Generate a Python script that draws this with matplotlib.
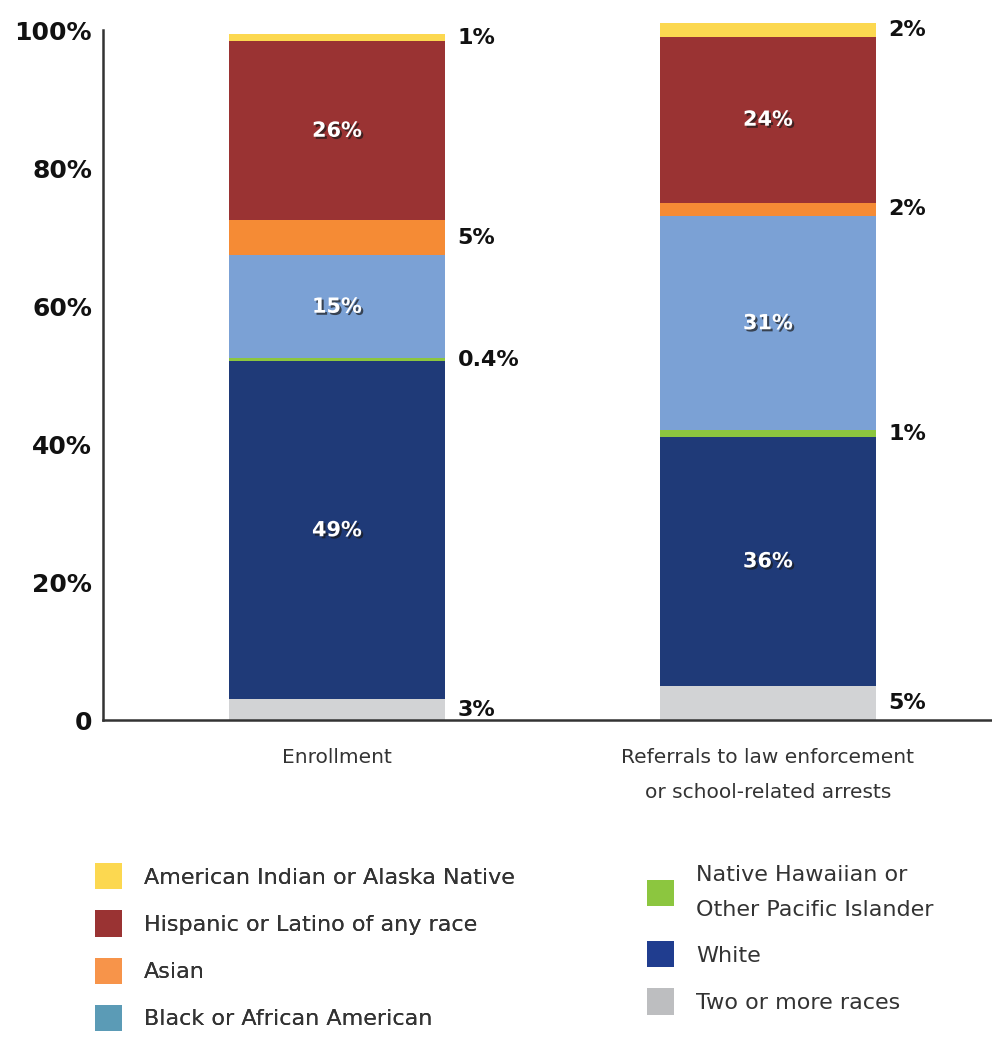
import numpy as np
import matplotlib
matplotlib.use("Agg")
import matplotlib.pyplot as plt
import matplotlib.patheffects as pe
from matplotlib.patches import Patch

# -------- data --------
groups = ["Enrollment", "Referrals to law enforcement\nor school-related arrests"]
races = ["Two or more races", "White", "Native Hawaiian or\nOther Pacific Islander",
         "Black or African American", "Asian", "Hispanic or Latino of any race",
         "American Indian or Alaska Native"]
two_more = [3, 5]
white = [49, 36]
nhpi = [0.4, 1]
black = [15, 31]
asian = [5, 2]
hispanic = [26, 24]
aian = [1, 2]
values = [two_more, white, nhpi, black, asian, hispanic, aian]
inside = [False, True, False, True, False, True, False]

bar_colors = ["#d2d3d5", "#1f3a78", "#8cc63f", "#7ba1d5", "#f58b35", "#9a3333", "#fcd850"]
legend_colors = ["#bdbec0", "#203d8f", "#8cc63f", "#5b9bb6", "#f7944a", "#9a3333", "#fcd850"]

yticks = [0, 20, 40, 60, 80, 100]
ytick_labels = ["0", "20%", "40%", "60%", "80%", "100%"]

def fmt(v):
    return f"{v:g}%"

# -------- figure --------
fig = plt.figure(figsize=(9.92, 10.38), dpi=100)
ax = fig.add_axes([103 / 992, 1 - 720 / 1038, 1 - 103 / 992, (720 - 30) / 1038])

x = np.arange(len(groups))
width = 0.503
bottom = np.zeros(len(groups))
shadow = [pe.withSimplePatchShadow(offset=(1.5, -1.5), shadow_rgbFace="#1a1a1a", alpha=0.7)]

for vals, col, ins in zip(values, bar_colors, inside):
    vals = np.array(vals, dtype=float)
    bars = ax.bar(x, vals, width, bottom=bottom, color=col, edgecolor="none", clip_on=False)
    for i, b in enumerate(bars):
        cy = bottom[i] + vals[i] / 2
        if ins:
            ax.text(b.get_x() + b.get_width() / 2, cy, fmt(vals[i]), ha="center", va="center",
                    color="white", fontsize=15, fontweight="bold", path_effects=shadow)
        else:
            ax.text(b.get_x() + b.get_width() + 0.028, cy, fmt(vals[i]), ha="left", va="center",
                    color="#111111", fontsize=16, fontweight="bold")
    bottom += vals

ax.set_xlim(-0.543, 1.52)
ax.set_ylim(0, 100)
ax.set_yticks(yticks)
ax.set_yticklabels(ytick_labels, fontsize=18, fontweight="bold", color="#111111")
ax.set_xticks(x)
ax.set_xticklabels(groups, fontsize=14.5, color="#333333", linespacing=2.05)
ax.tick_params(axis="both", length=0)
ax.tick_params(axis="y", pad=8)
ax.tick_params(axis="x", pad=20)
for s in ["top", "right"]:
    ax.spines[s].set_visible(False)
for s in ["left", "bottom"]:
    ax.spines[s].set_color("#333333")
    ax.spines[s].set_linewidth(1.8)

# -------- legend --------
order = [6, 5, 4, 3, 2, 1, 0]
handles = [Patch(facecolor=legend_colors[k], edgecolor="none") for k in order]
labels = [races[k] for k in order]

leg_kw = dict(frameon=False, fontsize=16, handlelength=1.2, handleheight=1.45,
              handletextpad=1.0, borderpad=0, borderaxespad=0, labelspacing=0.94,
              labelcolor="#333333", loc="upper left")
leg1 = fig.legend(handles[:4], labels[:4], bbox_to_anchor=(95 / 992, 1 - 863 / 1038), **leg_kw)
leg2 = fig.legend(handles[4:], labels[4:], bbox_to_anchor=(647 / 992, 1 - 865 / 1038), **leg_kw)
leg2.get_texts()[0].set_linespacing(1.95)
fig.add_artist(leg1)

fig.savefig("out.png", dpi=100)
